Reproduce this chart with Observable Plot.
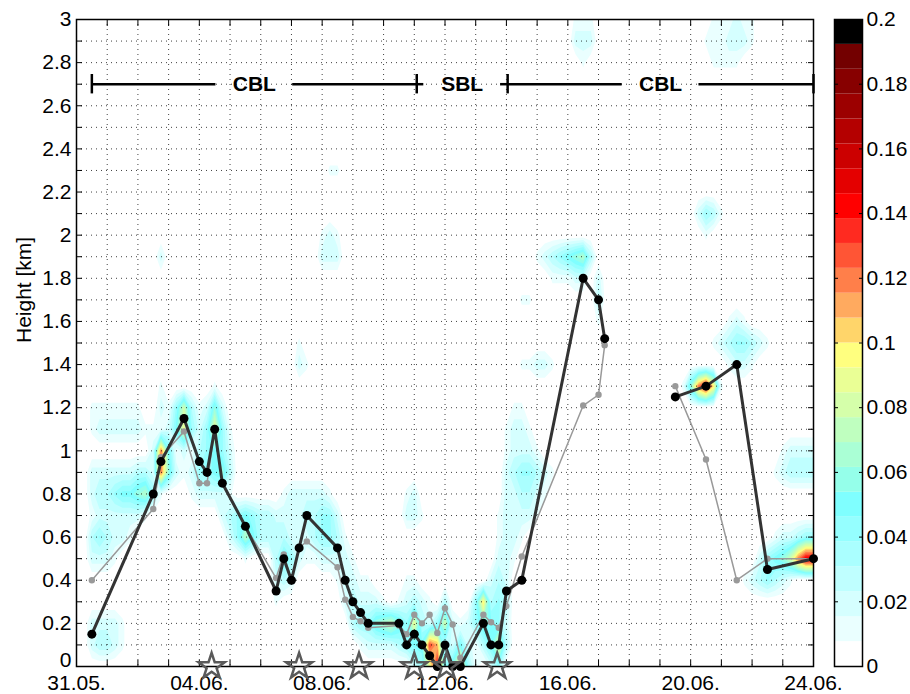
<!DOCTYPE html>
<html>
<head>
<meta charset="utf-8">
<script src="https://cdn.jsdelivr.net/npm/d3@7"></script>
<script src="https://cdn.jsdelivr.net/npm/@observablehq/plot@0.6"></script>
<style>
  body { margin: 0; background: #fff; }
  #chart { position: relative; width: 910px; height: 694px; font-family: "Liberation Sans", Arial, sans-serif; }
  #chart svg { position: absolute; top: 0; }
</style>
</head>
<body>
<div id="chart"></div>
<script>
// Time axis: days after 31 May, 00:00
const xTickDays = [0, 4, 8, 12, 16, 20, 24];
const xTickLabels = ["31.05.", "04.06.", "08.06.", "12.06.", "16.06.", "20.06.", "24.06."];
const yTickValues = [0, 0.2, 0.4, 0.6, 0.8, 1, 1.2, 1.4, 1.6, 1.8, 2, 2.2, 2.4, 2.6, 2.8, 3];
const yTickLabels = ["0", "0.2", "0.4", "0.6", "0.8", "1", "1.2", "1.4", "1.6", "1.8", "2", "2.2", "2.4", "2.6", "2.8", "3"];
const colorTicks = [0, 0.02, 0.04, 0.06, 0.08, 0.1, 0.12, 0.14, 0.16, 0.18, 0.2];
const colorTickLabels = ["0", "0.02", "0.04", "0.06", "0.08", "0.1", "0.12", "0.14", "0.16", "0.18", "0.2"];

// Colour levels of the filled field, from 0 up to 0.2
const bandColors = [
  "#ffffff", "#eaffff", "#d5ffff", "#bfffff", "#aaffff", "#95ffff", "#7fffff",
  "#95ffea", "#aaffd5", "#bfffbf", "#d5ffaa", "#eaff95", "#ffff7f",
  "#ffd56a", "#ffaa5f", "#ff7f4a", "#ff5535", "#ff2a20", "#ff0000",
  "#e40000", "#cc0000", "#b40000", "#9c0000", "#870000", "#730000", "#000000"
];
const colorMax = 0.2;

// Boundary-layer height: thick black series
const blackDays = [0.5, 2.5, 2.75, 3.5, 4.0, 4.25, 4.5, 4.75, 5.5, 6.5, 6.75, 7.0, 7.25, 7.5,
  8.5, 8.75, 9.0, 9.25, 9.5, 10.5, 10.75, 11.0, 11.25, 11.5, 11.75, 12.0, 12.25, 12.5,
  13.25, 13.5, 13.75, 14.0, 14.5, 16.5, 17.0, 17.2, 18.4, 19.5, 20.5, 21.5, 22.5, 24.0];
const blackKm = [0.15, 0.80, 0.95, 1.15, 0.95, 0.90, 1.10, 0.85, 0.65, 0.35, 0.50, 0.40, 0.55, 0.70,
  0.55, 0.40, 0.30, 0.25, 0.20, 0.20, 0.10, 0.15, 0.10, 0.05, 0.00, 0.10, 0.00, 0.00,
  0.20, 0.10, 0.10, 0.35, 0.40, 1.80, 1.70, 1.52, null, 1.25, 1.30, 1.40, 0.45, 0.50];

// Second estimate: thin grey series
const greyDays = [0.5, 2.5, 2.75, 3.5, 4.0, 4.25, 4.5, 4.75, 5.5, 6.5, 6.75, 7.0, 7.25, 7.5,
  8.5, 8.75, 9.0, 9.25, 9.5, 10.5, 10.75, 11.0, 11.25, 11.5, 11.75, 12.0, 12.25, 12.5,
  13.25, 13.5, 13.75, 14.0, 14.5, 16.5, 17.0, 17.2, 18.4, 19.5, 20.5, 21.5, 22.5, 24.0];
const greyKm = [0.40, 0.73, 0.97, 1.09, 0.85, 0.85, 1.10, 0.85, 0.65, 0.41, 0.52, 0.40, 0.55, 0.58,
  0.46, 0.31, 0.23, 0.21, 0.18, 0.19, 0.15, 0.24, 0.20, 0.24, 0.155, 0.27, 0.195, 0.04,
  0.24, 0.205, 0.18, 0.28, 0.51, 1.21, 1.26, 1.49, null, 1.30, 0.96, 0.40, 0.50, 0.50];

// Marked days along the ground
const starDays = [4.4, 7.25, 9.2, 11.0, 12.05, 13.7];

// Regimes above the plot
const regimeLabels = ["CBL", "SBL", "CBL"];
const regimeStart = [0.5, 11.08, 14.04];
const regimeEnd = [11.08, 14.04, 24.0];
const regimeKm = 2.7;

// Filled field on a 0.25 day x 0.1 km grid: [km, first day, codes];
// each code is one grid step in time, value = base-36 digit / 100.
const fieldRuns = [
  [3.0, 16.25, "111"], [3.0, 20.75, "111211"],
  [2.9, 16.25, "222"], [2.9, 20.5, "1112221"],
  [2.8, 16.5, "1"], [2.8, 20.75, "1111"],
  [2.3, 8.25, "11"],
  [2.1, 20.25, "2431"],
  [2.0, 8.0, "121"], [2.0, 20.5, "1"],
  [1.9, 2.75, "2"], [1.9, 8.0, "222"], [1.9, 15.0, "12345673"],
  [1.8, 15.5, "11122"], [1.8, 17.0, "2"],
  [1.7, 14.5, "11"], [1.7, 17.0, "3"],
  [1.6, 17.0, "1"], [1.6, 21.25, "121"],
  [1.5, 7.25, "1"], [1.5, 20.75, "12344321"],
  [1.4, 7.25, "21"], [1.4, 14.5, "11221"], [1.4, 21.25, "1221"],
  [1.3, 2.75, "1"], [1.3, 4.5, "1"], [1.3, 19.75, "16cfa1"],
  [1.2, 0.5, "1111111"], [1.2, 2.75, "214831262"], [1.2, 14.25, "11"],
  [1.1, 0.5, "1222222111259424941"], [1.1, 14.0, "1221"],
  [1.0, 2.5, "2c512134542"], [1.0, 14.0, "12221"], [1.0, 23.0, "12222"],
  [0.9, 0.5, "222222332c621244563"], [0.9, 14.0, "2344321"], [0.9, 22.75, "123333"],
  [0.8, 0.5, "2334556741000122221"], [0.8, 6.75, "1222221"], [0.8, 10.75, "12"], [0.8, 14.0, "223321"],
  [0.7, 0.5, "12222221"], [0.7, 4.75, "2345433222233442"], [0.7, 10.75, "221"], [0.7, 13.75, "122221"],
  [0.6, 0.5, "343221"], [0.6, 5.0, "2475333322234431"], [0.6, 13.75, "1221"], [0.6, 22.75, "122344"],
  [0.5, 0.5, "2221"], [0.5, 5.5, "1"], [0.5, 6.5, "35421122221"], [0.5, 13.75, "221"], [0.5, 22.25, "24568cff"],
  [0.4, 6.5, "232"], [0.4, 8.5, "12211"], [0.4, 10.75, "11"], [0.4, 13.5, "232"], [0.4, 21.75, "1234321"],
  [0.3, 6.5, "1"], [0.3, 8.75, "232221"], [0.3, 10.5, "12321"], [0.3, 12.0, "3"], [0.3, 13.0, "4a343"],
  [0.2, 0.5, "22221"], [0.2, 9.0, "344678649324821246542"],
  [0.1, 0.5, "23321"], [0.1, 9.25, "122223455db325213593"],
  [0.0, 11.0, "249e46b41"], [0.0, 13.5, "24"]
];

// ---- build the grid ----
const gridDx = 0.25, gridDy = 0.1, gridDays = 24, gridKm = 3;
const gridW = Math.round(gridDays / gridDx) + 1;   // 97 samples in time
const gridH = Math.round(gridKm / gridDy) + 1;     // 31 samples in height
const fieldValues = new Array(gridW * gridH).fill(0);
for (const [km, day, codes] of fieldRuns) {
  const row = Math.round((gridKm - km) / gridDy);
  const col0 = Math.round(day / gridDx);
  [...codes].forEach((c, k) => {
    if (c !== ".") fieldValues[row * gridW + col0 + k] = parseInt(c, 36) / 100;
  });
}

const bandStep = colorMax / bandColors.length;
const bandEdges = d3.range(1, bandColors.length).map(i => i * bandStep);
const colorScale = {type: "threshold", domain: bandEdges, range: bandColors};

const series = (days, km) => days.map((d, i) => ({day: d, km: km[i]}));
const blackData = series(blackDays, blackKm);
const greyData = series(greyDays, greyKm);
const regimes = regimeLabels.map((label, i) => ({
  label, start: regimeStart[i], end: regimeEnd[i], mid: (regimeStart[i] + regimeEnd[i]) / 2
}));
const gapDays = 1.25; // half-gap around each regime label
const regimeSegments = regimes.flatMap(r => [
  {x1: r.start, x2: r.mid - gapDays}, {x1: r.mid + gapDays, x2: r.end}
]);
const regimeBounds = [...new Set([...regimeStart, ...regimeEnd])];

const dayGrid = d3.range(0, gridDays + 1);
const kmGrid = d3.range(0, 31).map(i => i / 10);
const FONT = 21;
const yLabelFmt = d => yTickLabels[yTickValues.indexOf(d)];

const main = Plot.plot({
  width: 910, height: 694,
  marginLeft: 76, marginRight: 97, marginTop: 19, marginBottom: 28,
  style: {fontFamily: "Liberation Sans, Arial, sans-serif", fontSize: FONT + "px", background: "transparent", overflow: "visible"},
  x: {domain: [0, 24]},
  y: {domain: [0, 3]},
  color: colorScale,
  marks: [
    Plot.contour(fieldValues, {
      width: gridW, height: gridH,
      x1: -gridDx / 2, x2: gridDays + gridDx / 2,
      y1: gridKm + gridDy / 2, y2: -gridDy / 2,
      fill: Plot.identity, thresholds: bandEdges, stroke: "none", clip: true
    }),
    Plot.gridX(dayGrid, {stroke: "#000", strokeOpacity: 0.75, strokeDasharray: "1,4"}),
    Plot.gridY(kmGrid, {stroke: "#000", strokeOpacity: 0.75, strokeDasharray: "1,4"}),
    Plot.frame({stroke: "#000", strokeWidth: 1.5}),
    Plot.axisX(dayGrid, {anchor: "bottom", tickSize: -6, fill: "none", label: null}),
    Plot.axisX(dayGrid, {anchor: "top", tickSize: -6, fill: "none", label: null}),
    Plot.axisY(kmGrid, {anchor: "left", tickSize: -6, fill: "none", label: null}),
    Plot.axisY(kmGrid, {anchor: "right", tickSize: -6, fill: "none", label: null}),
    Plot.axisX(xTickDays, {anchor: "bottom", tickSize: 0, tickPadding: 9, fontSize: FONT, stroke: "none",
      tickFormat: d => xTickLabels[xTickDays.indexOf(d)], label: null}),
    // the bottom "0" sits a little higher so it clears the first date label
    Plot.axisY(yTickValues.slice(1), {anchor: "left", tickSize: 0, tickPadding: 5, fontSize: FONT, stroke: "none",
      tickFormat: yLabelFmt, label: null}),
    Plot.axisY(yTickValues.slice(0, 1), {anchor: "left", tickSize: 0, tickPadding: 5, fontSize: FONT, stroke: "none",
      dy: -6, tickFormat: yLabelFmt, label: null}),
    Plot.text(["Height [km]"], {frameAnchor: "left", rotate: -90, dx: -52, fontSize: FONT, text: d => d}),
    // grey estimate
    Plot.line(greyData, {x: "day", y: "km", stroke: "#999", strokeWidth: 1.5}),
    Plot.dot(greyData.filter(d => d.km != null), {x: "day", y: "km", r: 3.2, fill: "#999", stroke: "none"}),
    // black estimate
    Plot.line(blackData, {x: "day", y: "km", stroke: "#333", strokeWidth: 3}),
    Plot.dot(blackData.filter(d => d.km != null), {x: "day", y: "km", r: 4.5, fill: "#000", stroke: "none"}),
    // stars on the ground
    Plot.dot(starDays, {x: d => d, y: 0, symbol: "star", r: 8.2, fill: "none", stroke: "#5a5a5a", strokeWidth: 2.5}),
    // regime annotation
    Plot.ruleY(regimeSegments, {x1: "x1", x2: "x2", y: regimeKm, stroke: "#000", strokeWidth: 2.5}),
    Plot.ruleX(regimeBounds, {x: d => d, y1: regimeKm - 0.045, y2: regimeKm + 0.045, stroke: "#000", strokeWidth: 2.5}),
    Plot.text(regimes, {x: "mid", y: regimeKm, text: "label", fontWeight: "bold", fontSize: FONT})
  ]
});
main.style.left = "0px";

// ---- colour bar ----
const bands = bandColors.map((c, i) => ({lo: i * bandStep, hi: (i + 1) * bandStep}));
const bar = Plot.plot({
  width: 84, height: 694,
  marginLeft: 8, marginRight: 48, marginTop: 19, marginBottom: 28,
  style: {fontFamily: "Liberation Sans, Arial, sans-serif", fontSize: FONT + "px", background: "transparent", overflow: "visible"},
  x: {domain: [0, 1], axis: null},
  y: {domain: [0, colorMax]},
  color: colorScale,
  marks: [
    Plot.rect(bands, {x1: 0, x2: 1, y1: "lo", y2: "hi", fill: d => (d.lo + d.hi) / 2}),
    Plot.frame({stroke: "#000", strokeWidth: 1.5}),
    Plot.axisY(colorTicks, {anchor: "left", tickSize: -4, fill: "none", label: null}),
    Plot.axisY(colorTicks, {anchor: "right", tickSize: -4, fill: "none", label: null}),
    Plot.axisY(colorTicks, {anchor: "right", tickSize: 0, tickPadding: 4, fontSize: FONT, stroke: "none",
      tickFormat: d => colorTickLabels[colorTicks.indexOf(d)], label: null})
  ]
});
bar.style.left = "826px";

const chart = document.getElementById("chart");
chart.append(main, bar);
</script>
</body>
</html>
